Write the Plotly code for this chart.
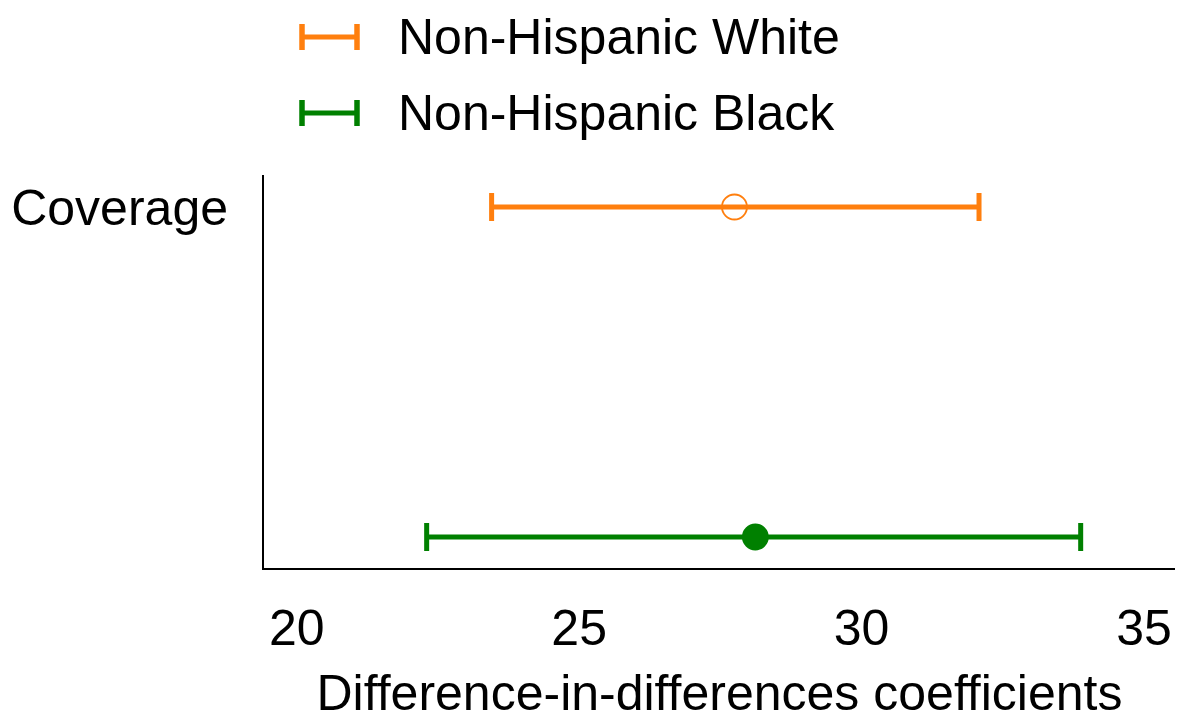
import plotly.graph_objects as go

# Data
groups = ["Non-Hispanic White", "Non-Hispanic Black"]
colors = ["#ff7f0e", "#008000"]
estimates = [27.75, 28.12]
ci_low = [23.45, 22.30]
ci_high = [32.08, 33.88]
y_pos = [1, 0]
marker_symbols = ["circle-open", "circle"]
y_tick_vals = [1]
y_tick_text = ["Coverage"]
x_ticks = [20, 25, 30, 35]

FONT = "Liberation Sans, Arial, Helvetica, sans-serif"
FS = 50

fig = go.Figure()
for g, c, est, lo, hi, yy, sym in zip(groups, colors, estimates, ci_low, ci_high, y_pos, marker_symbols):
    fig.add_trace(go.Scatter(
        x=[est], y=[yy], mode="markers", name=g, showlegend=False,
        marker=dict(symbol=sym, size=25, color=c, line=dict(color=c, width=1.8)),
        error_x=dict(type="data", symmetric=False, array=[hi - est], arrayminus=[est - lo],
                     color=c, thickness=5, width=14),
    ))

# Legend drawn as error-bar icons + text
L, R, T, B = 264, 6, 175, 153
W, H = 1181, 721
pw, ph = W - L - R, H - T - B
shapes, annotations = [], []
legend_rows_px = [37, 113]
for g, c, ypx in zip(groups, colors, legend_rows_px):
    yp = (H - B - ypx) / ph
    x0 = (302 - L) / pw
    x1 = (357 - L) / pw
    dh = 13 / ph
    shapes.append(dict(type="line", xref="paper", yref="paper", x0=x0, x1=x1, y0=yp, y1=yp,
                       line=dict(color=c, width=5)))
    for xx in (x0, x1):
        shapes.append(dict(type="line", xref="paper", yref="paper", x0=xx, x1=xx, y0=yp - dh, y1=yp + dh,
                           line=dict(color=c, width=5.5)))
    annotations.append(dict(text=g, xref="paper", yref="paper", x=(396 - L) / pw, y=yp,
                            xanchor="left", yanchor="middle", showarrow=False,
                            font=dict(family=FONT, size=FS, color="black")))

fig.update_layout(
    width=W, height=H,
    margin=dict(l=L, r=R, t=T, b=B, autoexpand=False),
    plot_bgcolor="white", paper_bgcolor="white",
    font=dict(family=FONT, size=FS, color="black"),
    showlegend=False,
    shapes=shapes, annotations=annotations,
    xaxis=dict(range=[19.42, 35.55], tickvals=x_ticks, showgrid=False, zeroline=False,
               showline=True, linecolor="black", linewidth=2, ticks="", automargin=False,
               ticklabelstandoff=15,
               title=dict(text="Difference-in-differences coefficients", standoff=26,
                          font=dict(family=FONT, size=FS))),
    yaxis=dict(range=[-0.094, 1.097], tickvals=y_tick_vals, ticktext=y_tick_text, showgrid=False,
               zeroline=False, showline=True, linecolor="black", linewidth=2, ticks="",
               automargin=False, ticklabelstandoff=24),
)

fig.write_html("out.html", config={"displayModeBar": False},
               post_script="document.body.style.margin='0px';document.body.style.overflow='hidden';")
